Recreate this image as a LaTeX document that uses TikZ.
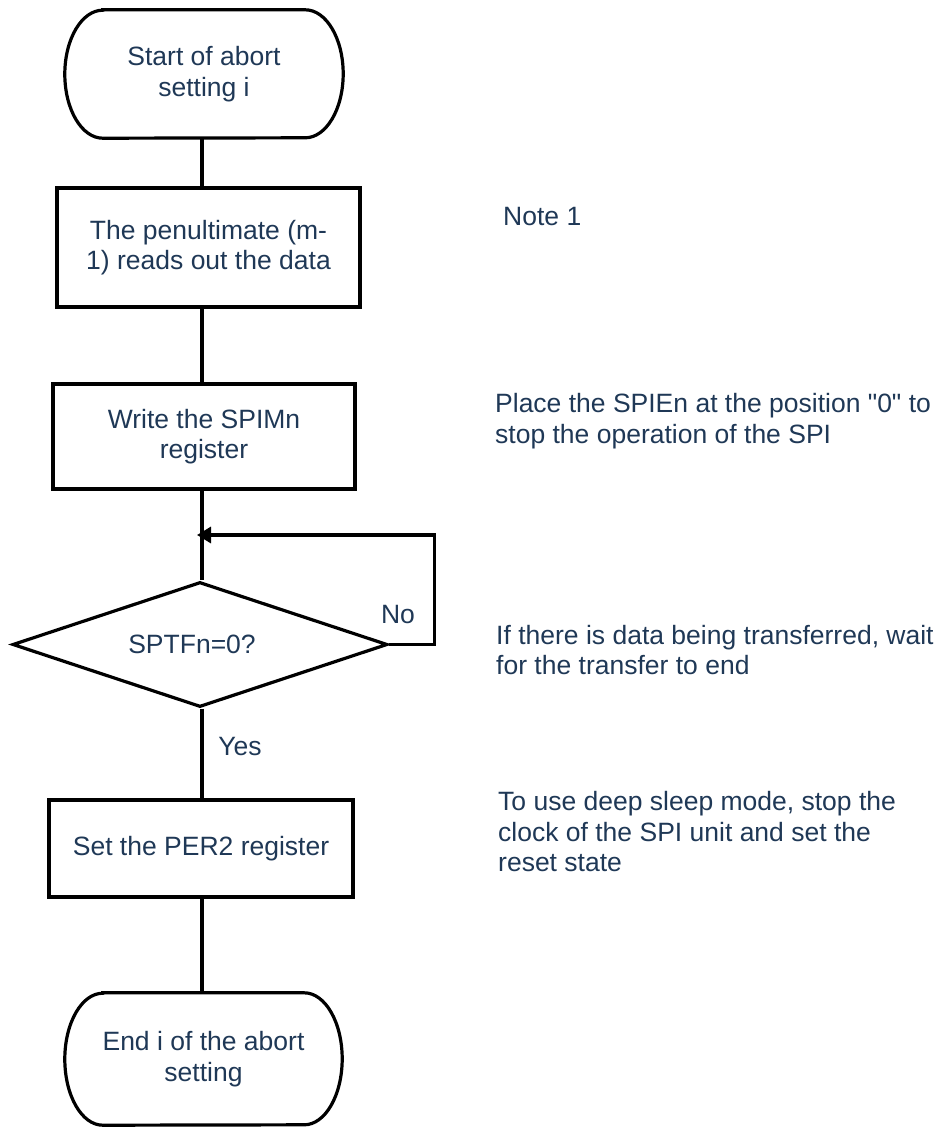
\documentclass[tikz,border=0pt]{standalone}
\usepackage{fontspec}
\setmainfont{Liberation Sans}[Ligatures=TeXOff]
\usetikzlibrary{shapes.geometric,arrows.meta}
\definecolor{txt}{HTML}{1F3856}
\begin{document}
\begin{tikzpicture}[x=1pt,y=1pt,
  every node/.style={text=txt,font=\fontsize{26.5}{30.5}\selectfont},
  line/.style={draw=black,line width=3.2pt},
  procbox/.style={rectangle,draw=black,line width=3.2pt,align=center,inner sep=0pt},
  termbox/.style={rectangle,align=center,inner sep=0pt},
  decbox/.style={diamond,draw=black,line width=3.2pt,inner sep=0pt,aspect=3},
  note/.style={align=left,anchor=west,inner sep=0pt},
  lbl/.style={inner sep=0pt}]
\useasboundingbox (0,0) rectangle (943,-1127);
\coordinate (spine) at (202,0);

% nodes
\node[termbox,minimum width=278pt,minimum height=128pt] (start) at (204,-74) {Start of abort\\setting i};
\draw[line] ([xshift=38pt]start.north west) -- ([xshift=-38pt]start.north east)
  arc[start angle=90,end angle=-90,x radius=38pt,y radius=64pt]
  -- ([xshift=38pt]start.south west)
  arc[start angle=270,end angle=90,x radius=38pt,y radius=64pt] -- cycle;

\node[procbox,minimum width=303pt,minimum height=119pt] (box1) at (208.5,-247.5) {The penultimate (m-\\1) reads out the data};
\node[procbox,minimum width=302pt,minimum height=105pt] (box2) at (204,-436.5) {Write the SPIMn\\register};
\node[decbox,minimum width=375pt,minimum height=125pt] (dec) at (200,-644.5) {\hspace*{-16pt}SPTFn=0?};
\node[procbox,minimum width=304pt,minimum height=97pt] (box3) at (201,-848.5) {Set the PER2 register};

\node[termbox,minimum width=277pt,minimum height=132pt] (stop) at (203.5,-1059) {End i of the abort\\setting};
\draw[line] ([xshift=38pt]stop.north west) -- ([xshift=-38pt]stop.north east)
  arc[start angle=90,end angle=-90,x radius=38pt,y radius=66pt]
  -- ([xshift=38pt]stop.south west)
  arc[start angle=270,end angle=90,x radius=38pt,y radius=66pt] -- cycle;

% labels
\node[lbl] (no) at (398,-615) {No};
\node[lbl] (yes) at (240,-747) {Yes};

% notes
\node[note] (n1) at (503,-217) {Note 1};
\node[note] (n2) at (495,-421) {Place the SPIEn at the position "0" to\\stop the operation of the SPI};
\node[note] (n3) at (496,-650) {If there is data being transferred, wait\\for the transfer to end};
\node[note] (n4) at (498,-832) {To use deep sleep mode, stop the\\clock of the SPI unit and set the\\reset state};

% connectors
\coordinate (merge) at (197,-535);
\draw[line] (start.south -| spine) -- (box1.north -| spine);
\draw[line] (box1.south -| spine) -- (box2.north -| spine);
\draw[line] (box2.south -| spine) -- (dec.north -| spine);
\draw[line,-{Triangle[length=14pt,width=16pt]}] (dec.east) -- ++(45,0) |- (merge);
\draw[line] (dec.south -| spine) -- (box3.north -| spine);
\draw[line] (box3.south -| spine) -- (stop.north -| spine);
\end{tikzpicture}
\end{document}
